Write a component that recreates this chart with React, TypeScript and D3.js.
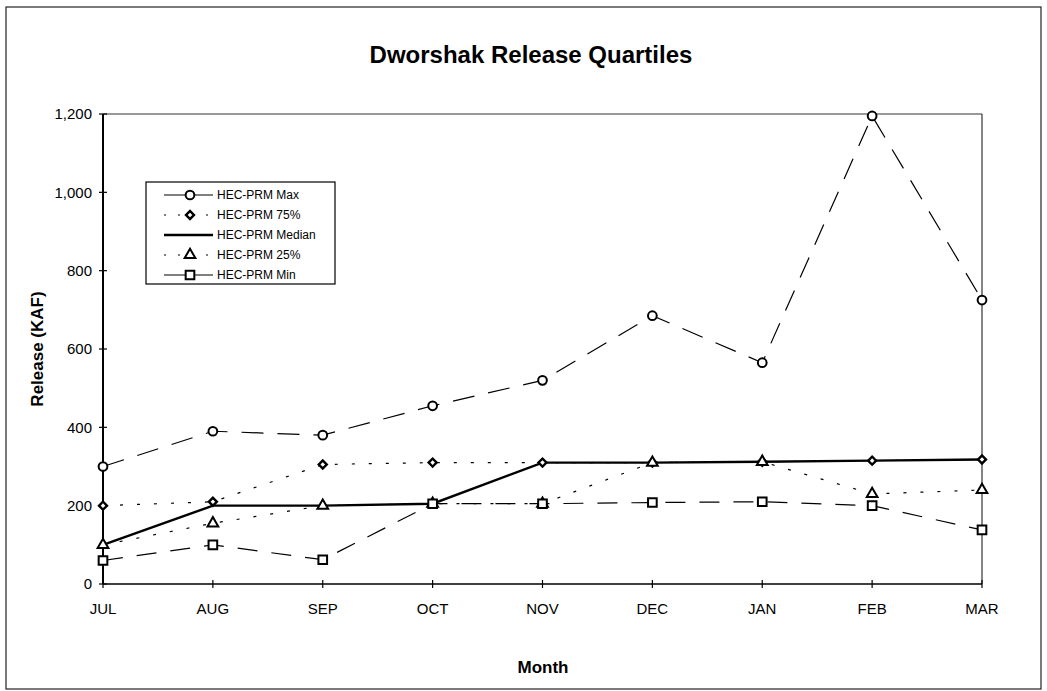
import { useEffect, useRef } from "react";
import * as d3 from "d3";

const months = ["JUL", "AUG", "SEP", "OCT", "NOV", "DEC", "JAN", "FEB", "MAR"];
const maxVals = [300, 390, 380, 455, 520, 685, 565, 1195, 725];
const p75Vals = [200, 210, 305, 310, 310, 310, 312, 315, 318];
const medianVals = [100, 200, 200, 205, 310, 310, 312, 315, 318];
const p25Vals = [100, 155, 200, 205, 205, 310, 312, 230, 240];
const minVals = [60, 100, 62, 205, 205, 208, 210, 200, 138];
const yTicks = [0, 200, 400, 600, 800, 1000, 1200];

const seriesNames = ["HEC-PRM Max", "HEC-PRM 75%", "HEC-PRM Median", "HEC-PRM 25%", "HEC-PRM Min"];

export default function App() {
  const svgRef = useRef<SVGSVGElement>(null);

  useEffect(() => {
    if (!svgRef.current) return;
    const svg = d3.select(svgRef.current);
    svg.selectAll("*").remove();

    const font = "'Liberation Sans', Arial, Helvetica, sans-serif";
    const left = 103;
    const right = 982;
    const top = 114;
    const bottom = 584;

    const x = d3.scalePoint<string>().domain(months).range([left, right]);
    const y = d3.scaleLinear().domain([0, 1200]).range([bottom, top]);

    // outer frame
    svg
      .append("rect")
      .attr("x", 6)
      .attr("y", 7)
      .attr("width", 1035)
      .attr("height", 682)
      .attr("fill", "none")
      .attr("stroke", "#222")
      .attr("stroke-width", 1.2);

    // title
    svg
      .append("text")
      .attr("x", 531)
      .attr("y", 63)
      .attr("text-anchor", "middle")
      .attr("font-family", font)
      .attr("font-size", "24px")
      .attr("font-weight", "bold")
      .text("Dworshak Release Quartiles");

    // plot frame (top and right)
    svg
      .append("line")
      .attr("x1", left)
      .attr("x2", right)
      .attr("y1", top)
      .attr("y2", top)
      .attr("stroke", "#333")
      .attr("stroke-width", 1);
    svg
      .append("line")
      .attr("x1", right)
      .attr("x2", right)
      .attr("y1", top)
      .attr("y2", bottom)
      .attr("stroke", "#333")
      .attr("stroke-width", 1.2);

    // y axis
    svg
      .append("line")
      .attr("x1", left)
      .attr("x2", left)
      .attr("y1", top)
      .attr("y2", bottom)
      .attr("stroke", "#000")
      .attr("stroke-width", 2);
    yTicks.forEach((t) => {
      svg
        .append("line")
        .attr("x1", left - 4)
        .attr("x2", left + 4)
        .attr("y1", y(t))
        .attr("y2", y(t))
        .attr("stroke", "#000")
        .attr("stroke-width", 1.2);
      svg
        .append("text")
        .attr("x", left - 11)
        .attr("y", y(t))
        .attr("dy", "0.35em")
        .attr("text-anchor", "end")
        .attr("font-family", font)
        .attr("font-size", "15px")
        .text(d3.format(",")(t));
    });

    // x axis
    svg
      .append("line")
      .attr("x1", left)
      .attr("x2", right)
      .attr("y1", bottom)
      .attr("y2", bottom)
      .attr("stroke", "#000")
      .attr("stroke-width", 1.5);
    months.forEach((m) => {
      svg
        .append("line")
        .attr("x1", x(m)!)
        .attr("x2", x(m)!)
        .attr("y1", bottom - 4)
        .attr("y2", bottom + 4)
        .attr("stroke", "#000")
        .attr("stroke-width", 1.2);
      svg
        .append("text")
        .attr("x", x(m)!)
        .attr("y", bottom + 30)
        .attr("text-anchor", "middle")
        .attr("font-family", font)
        .attr("font-size", "15px")
        .text(m);
    });

    // axis titles
    svg
      .append("text")
      .attr("x", 543)
      .attr("y", 673)
      .attr("text-anchor", "middle")
      .attr("font-family", font)
      .attr("font-size", "17px")
      .attr("font-weight", "bold")
      .text("Month");
    svg
      .append("text")
      .attr("transform", "translate(43, 349) rotate(-90)")
      .attr("text-anchor", "middle")
      .attr("font-family", font)
      .attr("font-size", "17px")
      .attr("font-weight", "bold")
      .text("Release (KAF)");

    const series = [
      { name: seriesNames[0], values: maxVals, dash: "22,14", width: 1.2, marker: "circle" },
      { name: seriesNames[1], values: p75Vals, dash: "3,14", width: 1.2, marker: "diamond" },
      { name: seriesNames[2], values: medianVals, dash: "none", width: 2.4, marker: "none" },
      { name: seriesNames[3], values: p25Vals, dash: "3,14", width: 1.2, marker: "triangle" },
      { name: seriesNames[4], values: minVals, dash: "20,14", width: 1.2, marker: "square" },
    ];

    const line = d3
      .line<number>()
      .x((_, i) => x(months[i])!)
      .y((d) => y(d));

    const symbolFor = (m: string) => {
      if (m === "circle") return d3.symbol().type(d3.symbolCircle).size(60)();
      if (m === "diamond") return d3.symbol().type(d3.symbolSquare).size(32)();
      if (m === "triangle") return d3.symbol().type(d3.symbolTriangle).size(50)();
      return d3.symbol().type(d3.symbolSquare).size(75)();
    };

    const drawMarker = (g: any, m: string, cx: number, cy: number) => {
      if (m === "none") return;
      g.append("path")
        .attr("d", symbolFor(m))
        .attr("transform", `translate(${cx},${cy})${m === "diamond" ? " rotate(45)" : ""}`)
        .attr("fill", "#fff")
        .attr("stroke", "#000")
        .attr("stroke-width", m === "diamond" ? 2.4 : 2);
    };

    // lines first, then markers on top
    series.forEach((s) => {
      svg
        .append("path")
        .datum(s.values)
        .attr("d", line)
        .attr("fill", "none")
        .attr("stroke", "#000")
        .attr("stroke-width", s.width)
        .attr("stroke-dasharray", s.dash);
    });
    series.forEach((s) => {
      s.values.forEach((v, i) => drawMarker(svg, s.marker, x(months[i])!, y(v)));
    });

    // legend
    const lg = svg.append("g");
    lg.append("rect")
      .attr("x", 146)
      .attr("y", 182)
      .attr("width", 189)
      .attr("height", 102)
      .attr("fill", "#fff")
      .attr("stroke", "#000")
      .attr("stroke-width", 1.2);
    series.forEach((s, i) => {
      const ly = 195 + i * 20;
      lg.append("line")
        .attr("x1", 164)
        .attr("x2", 213)
        .attr("y1", ly)
        .attr("y2", ly)
        .attr("stroke", "#000")
        .attr("stroke-width", s.width)
        .attr("stroke-dasharray", s.dash === "none" ? "none" : s.dash.startsWith("3") ? "2,12" : "22,6");
      drawMarker(lg, s.marker, 190, ly);
      lg.append("text")
        .attr("x", 217)
        .attr("y", ly)
        .attr("dy", "0.35em")
        .attr("font-family", font)
        .attr("font-size", "12px")
        .text(s.name);
    });
  }, []);

  return (
    <div style={{ position: "absolute", left: 0, top: 0 }}>
      <svg ref={svgRef} width={1047} height={691} style={{ display: "block", background: "#fff" }}></svg>
    </div>
  );
}
